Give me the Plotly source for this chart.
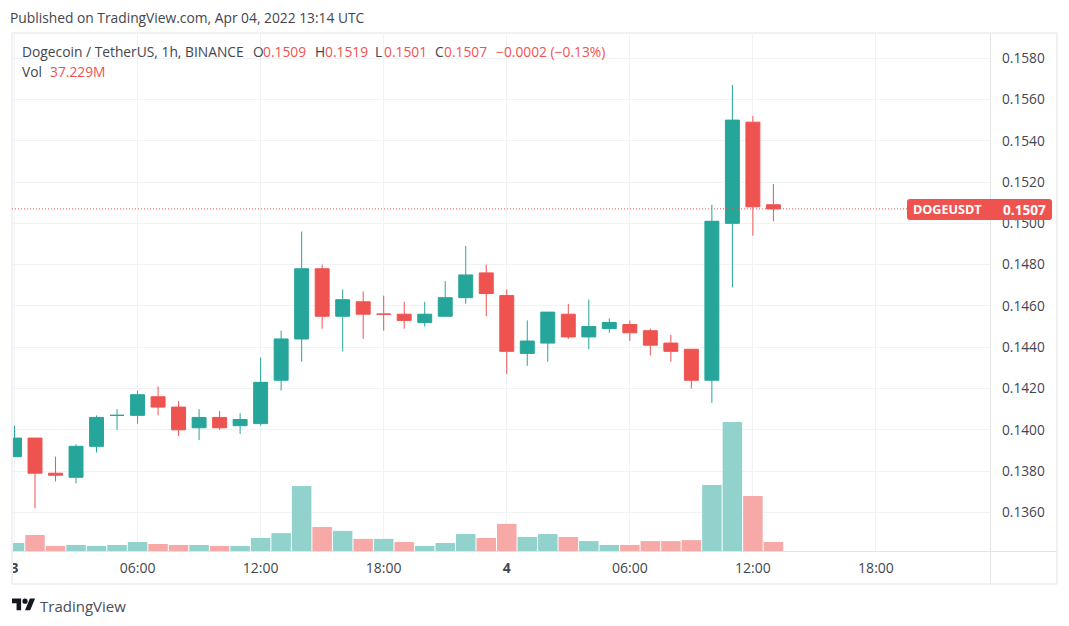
import pandas as pd
import plotly.graph_objects as go

# 1h candles from Apr 03 00:00
hours = pd.date_range("2022-04-03 00:00", periods=38, freq="h")
opens = [0.1387, 0.1396, 0.1379, 0.1377, 0.1392, 0.1407, 0.1407, 0.1416, 0.1411, 0.1401,
         0.1406, 0.1402, 0.1403, 0.1424, 0.1444, 0.1478, 0.1455, 0.1462, 0.1456, 0.1456,
         0.1452, 0.1455, 0.1464, 0.1476, 0.1465, 0.1437, 0.1442, 0.1456, 0.1445, 0.1449,
         0.1451, 0.1448, 0.1442, 0.1439, 0.1424, 0.1500, 0.1549, 0.1509]
highs = [0.1402, 0.1396, 0.1387, 0.1393, 0.1407, 0.1410, 0.1419, 0.1421, 0.1414, 0.1410,
         0.1409, 0.1408, 0.1435, 0.1448, 0.1496, 0.1480, 0.1468, 0.1467, 0.1465, 0.1462,
         0.1462, 0.1472, 0.1489, 0.1480, 0.1468, 0.1453, 0.1457, 0.1461, 0.1463, 0.1454,
         0.1453, 0.1449, 0.1446, 0.1439, 0.1509, 0.1567, 0.1552, 0.1519]
lows = [0.1387, 0.1362, 0.1375, 0.1374, 0.1389, 0.1400, 0.1403, 0.1407, 0.1397, 0.1395,
        0.1400, 0.1398, 0.1402, 0.1419, 0.1433, 0.1449, 0.1438, 0.1444, 0.1448, 0.1449,
        0.1450, 0.1455, 0.1461, 0.1455, 0.1427, 0.1431, 0.1433, 0.1444, 0.1439, 0.1447,
        0.1443, 0.1436, 0.1433, 0.1420, 0.1413, 0.1469, 0.1494, 0.1501]
closes = [0.1396, 0.1379, 0.1378, 0.1392, 0.1406, 0.1407, 0.1417, 0.1411, 0.1400, 0.1406,
          0.1401, 0.1405, 0.1423, 0.1444, 0.1478, 0.1455, 0.1463, 0.1456, 0.1456, 0.1453,
          0.1456, 0.1464, 0.1475, 0.1466, 0.1438, 0.1443, 0.1457, 0.1445, 0.1450, 0.1452,
          0.1447, 0.1441, 0.1438, 0.1424, 0.1501, 0.1550, 0.1508, 0.1507]
volumes = [33, 66, 21, 25, 21, 25, 37, 29, 25, 25, 21, 21, 54, 74, 268, 99, 83, 50, 50, 37,
           21, 33, 70, 54, 112, 58, 70, 58, 41, 25, 25, 41, 41, 45, 273, 533, 227, 37.229]

price_ticks = [0.1360, 0.1380, 0.1400, 0.1420, 0.1440, 0.1460, 0.1480, 0.1500,
               0.1520, 0.1540, 0.1560, 0.1580]
time_ticks = ["2022-04-03 00:00", "2022-04-03 06:00", "2022-04-03 12:00", "2022-04-03 18:00",
              "2022-04-04 00:00", "2022-04-04 06:00", "2022-04-04 12:00", "2022-04-04 18:00"]
time_labels = ["<b>3</b>", "06:00", "12:00", "18:00", "<b>4</b>", "06:00", "12:00", "18:00"]

UP = "#26a69a"
DOWN = "#ef5350"
UP_VOL = "#92d2cc"
DOWN_VOL = "#f7a9a7"
GRID = "#f0f2f5"
BORDER = "#e3e5e9"
FRAME = "#f0f1f3"
TEXT = "#43464f"
FONT = "Open Sans"

# plot area in page pixels
L, T, R, B = 12, 33, 990, 551
W, H = R - L, B - T


def px(x):
    return (x - L) / W


def py(y):
    return 1 - (y - T) / H


def page_line(x0, y0, x1, y1, color, width=1):
    return dict(type="line", xref="paper", yref="paper", x0=px(x0), y0=py(y0), x1=px(x1), y1=py(y1),
                line=dict(color=color, width=width), layer="above")


def label(x, y, text, color=TEXT, size=13.8, anchor="left"):
    return dict(xref="paper", yref="paper", x=px(x), y=py(y), text=text, showarrow=False,
                xanchor=anchor, yanchor="middle", font=dict(color=color, size=size, family=FONT),
                borderpad=0, borderwidth=0)


def rounded_box(x0, y0, x1, y1, r, color):
    path = (f"M {px(x0 + r)} {py(y0)} L {px(x1 - r)} {py(y0)} Q {px(x1)} {py(y0)} {px(x1)} {py(y0 + r)} "
            f"L {px(x1)} {py(y1 - r)} Q {px(x1)} {py(y1)} {px(x1 - r)} {py(y1)} "
            f"L {px(x0 + r)} {py(y1)} Q {px(x0)} {py(y1)} {px(x0)} {py(y1 - r)} "
            f"L {px(x0)} {py(y0 + r)} Q {px(x0)} {py(y0)} {px(x0 + r)} {py(y0)} Z")
    return dict(type="path", xref="paper", yref="paper", path=path, fillcolor=color,
                line=dict(width=0), layer="above")


def logo_poly(points):
    # logo outline given in its own 36x28 box
    s = 0.65
    pts = [(12 + a * s, 596 + b * s) for a, b in points]
    path = "M " + " L ".join(f"{px(a)} {py(b)}" for a, b in pts) + " Z"
    return dict(type="path", xref="paper", yref="paper", path=path, fillcolor="#131722",
                line=dict(width=0), layer="above")


fig = go.Figure()

fig.add_trace(go.Bar(
    x=hours, y=volumes, yaxis="y2",
    marker=dict(color=[UP_VOL if c >= o else DOWN_VOL for o, c in zip(opens, closes)], line=dict(width=0)),
    showlegend=False,
))

fig.add_trace(go.Candlestick(
    x=hours, open=opens, high=highs, low=lows, close=closes, whiskerwidth=0,
    increasing=dict(line=dict(color=UP, width=1), fillcolor=UP),
    decreasing=dict(line=dict(color=DOWN, width=1), fillcolor=DOWN),
    showlegend=False,
))

shapes = [
    page_line(L, T, 1057, T, FRAME, 2),
    page_line(L, 584, 1057, 584, FRAME, 2),
    page_line(L, T, L, 584, FRAME, 2),
    page_line(1057, T, 1057, 584, FRAME, 2),
    page_line(990.5, T, 990.5, 584, BORDER),
    page_line(L, 551.5, 1057, 551.5, BORDER),
    dict(type="line", xref="paper", yref="y", x0=0, x1=1, y0=closes[-1], y1=closes[-1],
         line=dict(color=DOWN, width=1, dash="1px,2px")),
    rounded_box(907, 199, 1052, 220, 3, DOWN),
    logo_poly([(0, 4), (14, 4), (14, 22), (7, 22), (7, 11), (0, 11)]),
    logo_poly([(27.5, 4), (35.5, 4), (28, 22), (20, 22)]),
    dict(type="circle", xref="paper", yref="paper",
         x0=px(12 + 16 * 0.65), x1=px(12 + 24 * 0.65), y0=py(596 + 12 * 0.65), y1=py(596 + 4 * 0.65),
         fillcolor="#131722", line=dict(width=0), layer="above"),
]

annotations = [
    label(10, 17, "Published on TradingView.com, Apr 04, 2022 13:14 UTC"),
    label(22, 51, "Dogecoin / TetherUS, 1h, BINANCE"),
    label(253, 51, "O"), label(263, 51, "0.1509", DOWN),
    label(315, 51, "H"), label(325, 51, "0.1519", DOWN),
    label(375, 51, "L"), label(384, 51, "0.1501", DOWN),
    label(435, 51, "C"), label(444, 51, "0.1507", DOWN),
    label(496, 51, "\u22120.0002 (\u22120.13%)", DOWN),
    label(22, 72, "Vol"), label(50, 72, "37.229M", DOWN),
    label(913, 209.5, "<b>DOGEUSDT</b>", "#ffffff", 12.6),
    label(1046, 209.5, "<b>0.1507</b>", "#ffffff", 13.6, anchor="right"),
    label(40, 605.5, "TradingView", "#4a4e57", 15),
]

fig.update_layout(
    width=1069, height=626,
    margin=dict(l=L, r=1069 - R, t=T, b=626 - B, autoexpand=False),
    paper_bgcolor="white", plot_bgcolor="white",
    font=dict(family=FONT, size=13, color=TEXT),
    bargap=0.05,
    boxgap=0.32,
    boxgroupgap=0,
    shapes=shapes,
    annotations=annotations,
    xaxis=dict(
        type="date",
        range=["2022-04-02 23:52:41", "2022-04-04 23:33:36"],
        tickmode="array", tickvals=time_ticks, ticktext=time_labels, ticks="", ticklen=0,
        ticklabelstandoff=7,
        showgrid=True, gridcolor=GRID, gridwidth=1, zeroline=False, showline=False,
        rangeslider=dict(visible=False),
        tickfont=dict(size=14, color=TEXT, family=FONT),
    ),
    yaxis=dict(
        side="right", range=[0.134131, 0.159218],
        tickmode="array", tickvals=price_ticks, ticktext=[f"{v:.4f}" for v in price_ticks], ticks="",
        ticklabelstandoff=11,
        showgrid=True, gridcolor=GRID, gridwidth=1, zeroline=False, showline=False,
        tickfont=dict(size=13.7, color=TEXT, family=FONT),
    ),
    yaxis2=dict(overlaying="y", range=[0, 2139], visible=False, showgrid=False),
)

fig.write_html("out.html", config=dict(displayModeBar=False),
               post_script="document.body.style.margin='0';")
